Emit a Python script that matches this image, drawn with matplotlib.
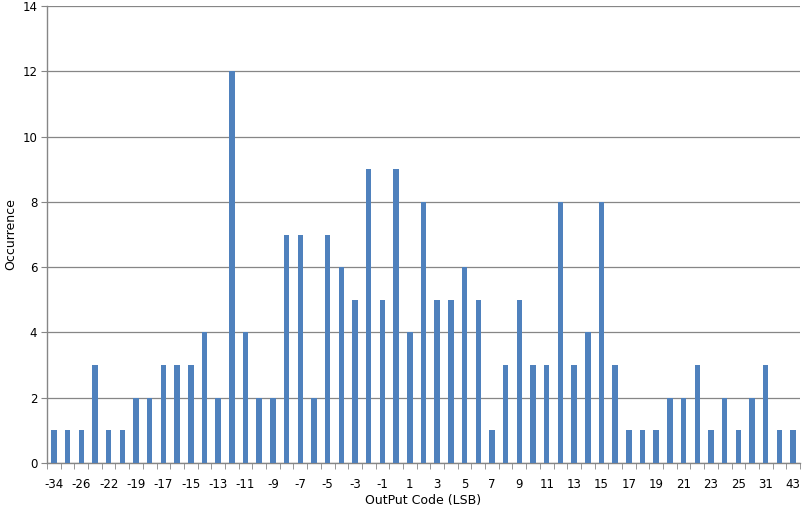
import numpy as np
import matplotlib
matplotlib.use("Agg")
from matplotlib import pyplot as plt

# output codes (only the labelled ones are readable, the others are between them)
codes = [-34, -30, -26, -24, -22, -20, -19, -18, -17, -16, -15, -14, -13, -12,
         -11, -10, -9, -8, -7, -6, -5, -4, -3, -2, -1, 0, 1, 2, 3, 4, 5, 6, 7,
         8, 9, 10, 11, 12, 13, 14, 15, 16, 17, 18, 19, 20, 21, 22, 23, 24, 25,
         27, 31, 33, 43]
counts = [1, 1, 1, 3, 1, 1, 2, 2, 3, 3, 3, 4, 2, 12, 4, 2, 2, 7, 7, 2, 7, 6, 5,
          9, 5, 9, 4, 8, 5, 5, 6, 5, 1, 3, 5, 3, 3, 8, 3, 4, 8, 3, 1, 1, 1, 2,
          2, 3, 1, 2, 1, 2, 3, 1, 1]

bar_color = "#4F81BD"
grid_color = "#868686"

fig = plt.figure(figsize=(8.04, 5.12), dpi=100)
ax = fig.add_axes([0.0585, 0.0957, 0.9365, 0.8925])

x = np.arange(len(codes))
ax.bar(x, counts, width=0.4, color=bar_color, zorder=3)

ax.set_xlim(-0.5, len(codes) - 0.5)
ax.set_ylim(0, 14)
ax.set_yticks(range(0, 15, 2))
ax.yaxis.grid(True, color=grid_color, linewidth=0.9, zorder=0)

# labels on every other category, tick marks between categories
ax.set_xticks(x[::2])
ax.set_xticklabels([str(c) for c in codes[::2]], fontsize=8.5)
ax.set_xticks(np.arange(-0.5, len(codes), 1), minor=True)
ax.tick_params(axis="x", which="major", length=0, pad=11)
ax.tick_params(axis="x", which="minor", length=4, color=grid_color, direction="out")
ax.tick_params(axis="y", length=4, color=grid_color, labelsize=8.5, pad=3)

for s in ["top", "right"]:
    ax.spines[s].set_visible(False)
for s in ["left", "bottom"]:
    ax.spines[s].set_color(grid_color)
    ax.spines[s].set_linewidth(1.0)

ax.set_xlabel("OutPut Code (LSB)", fontsize=9, labelpad=2)
ax.set_ylabel("Occurrence", fontsize=9, labelpad=4)

plt.savefig("out.png", dpi=100)
